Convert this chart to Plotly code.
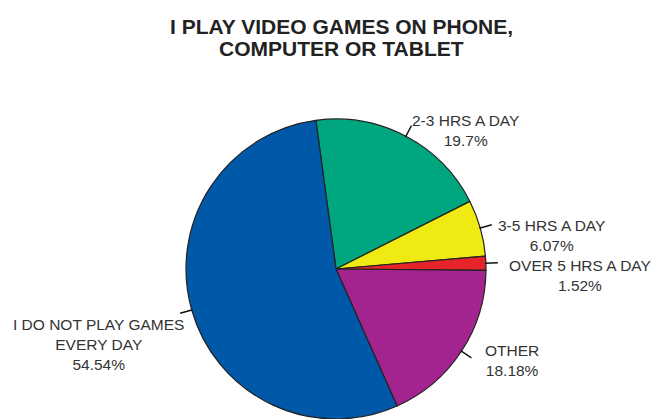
import math
import plotly.graph_objects as go

# ---- data ----
labels = ["2-3 HRS A DAY", "3-5 HRS A DAY", "OVER 5 HRS A DAY", "OTHER", "I DO NOT PLAY GAMES<br>EVERY DAY"]
values = [19.70, 6.07, 1.52, 18.18, 54.54]
pct_text = ["19.7%", "6.07%", "1.52%", "18.18%", "54.54%"]
colors = ["#00A77E", "#EEEA12", "#E5232A", "#A3238F", "#0058A8"]
title_lines = ["I PLAY VIDEO GAMES ON PHONE,", "COMPUTER OR TABLET"]

# ---- layout / style constants (pixels) ----
W, H = 651, 419
CX, CY, R = 336, 269, 150
ROTATION = -7.7
TICK_LEN = 12
LABEL_FONT = dict(family="Liberation Sans, Arial", size=15.5, color="#333333")
# per-label nudges relative to the leader-tick end (dx, dy of first-line centre)
LABEL_DX = [-1, 4, 9, 12, 6]
LABEL_DY = [-5, 1, 3, -7, 12]

fig = go.Figure(go.Pie(
    labels=labels,
    values=values,
    text=pct_text,
    sort=False,
    direction="clockwise",
    rotation=ROTATION,
    marker=dict(colors=colors, line=dict(color="#222222", width=1.2)),
    textinfo="none",
    domain=dict(x=[(CX - 315) / W, (CX + 315) / W],
                y=[(H - CY - R) / H, (H - CY + R) / H]),
    hoverinfo="label+text",
    showlegend=False,
))

total = sum(values)
start = ROTATION
annotations = []
shapes = []
for lab, val, pt, dx, dy in zip(labels, values, pct_text, LABEL_DX, LABEL_DY):
    span = val / total * 360
    mid = math.radians(start + span / 2)
    start += span
    sx, sy = CX + (R - 1) * math.sin(mid), CY - (R - 1) * math.cos(mid)
    ex, ey = CX + (R + TICK_LEN) * math.sin(mid), CY - (R + TICK_LEN) * math.cos(mid)
    shapes.append(dict(type="line", xref="x", yref="y", x0=sx, y0=sy, x1=ex, y1=ey,
                       line=dict(color="#111111", width=1.4), layer="above"))
    right_side = math.sin(mid) >= 0
    annotations.append(dict(
        text=f"{lab}<br>{pt}", xref="x", yref="y",
        x=ex + dx, y=ey + dy - 11, xanchor="left" if right_side else "right",
        yanchor="top", align="center", showarrow=False, font=LABEL_FONT,
    ))

# invisible pixel-space axes carrying the leader ticks and labels
fig.add_trace(go.Scatter(x=[0, W], y=[0, H], mode="markers",
                         marker=dict(opacity=0), hoverinfo="skip", showlegend=False))

title_y = [26, 48]
for t, ty in zip(title_lines, title_y):
    annotations.append(dict(
        text=f"<b>{t}</b>", xref="x", yref="y", x=341, y=ty,
        xanchor="center", yanchor="middle", showarrow=False,
        font=dict(family="Liberation Sans, Arial", size=21, color="#222222"),
    ))

fig.update_layout(
    width=W, height=H,
    margin=dict(l=0, r=0, t=0, b=0),
    paper_bgcolor="white",
    plot_bgcolor="rgba(0,0,0,0)",
    xaxis=dict(range=[0, W], visible=False, fixedrange=True, domain=[0, 1]),
    yaxis=dict(range=[H, 0], visible=False, fixedrange=True, domain=[0, 1]),
    shapes=shapes,
    annotations=annotations,
)

fig.write_html("out.html")
